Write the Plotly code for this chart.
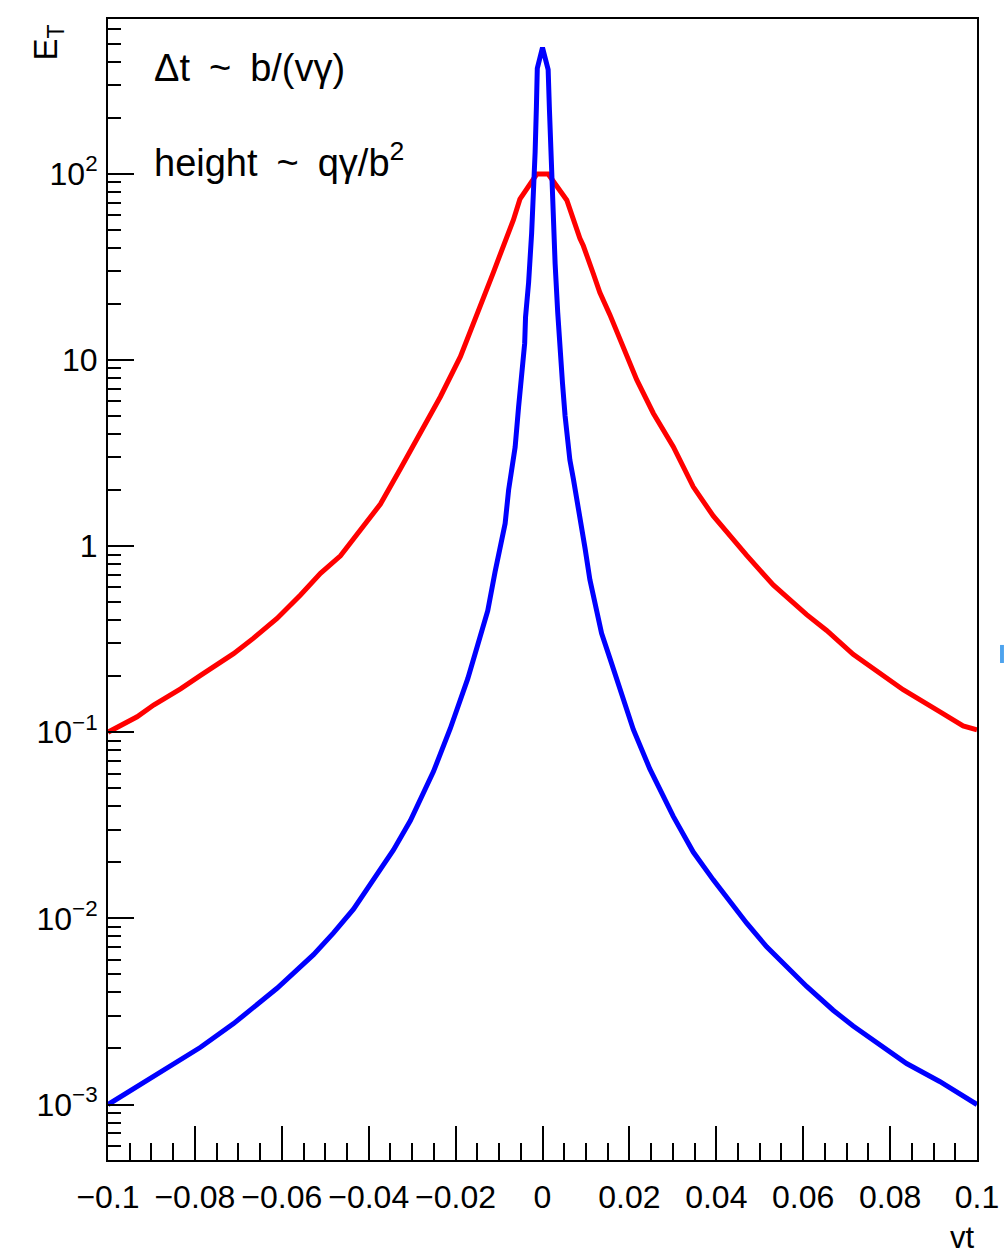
import plotly.graph_objects as go

# ---- data ----
blue_x = [-0.1, -0.0895, -0.0833, -0.0787, -0.0711, -0.0665, -0.0611, -0.0527, -0.0481,
          -0.0435, -0.0389, -0.0343, -0.0304, -0.0274, -0.0251, -0.0212, -0.0189, -0.0172,
          -0.0149, -0.0126, -0.0109, -0.0101, -0.0086, -0.0078, -0.0063, -0.0055, -0.0048,
          -0.0041, -0.0039, -0.0032, -0.0025, -0.0021, -0.0017, -0.0014, -0.0012, 0.0,
          0.0013, 0.0016, 0.0020, 0.0023, 0.0029, 0.0035, 0.0040, 0.0046, 0.0052, 0.0063,
          0.0071, 0.0083, 0.0098, 0.0109, 0.0117, 0.0129, 0.0136, 0.0155, 0.0175, 0.0209,
          0.0247, 0.0301, 0.0347, 0.0393, 0.0470, 0.0516, 0.0608, 0.0669, 0.0715, 0.0792,
          0.0838, 0.0914, 0.0991, 0.1]
blue_y = [0.001, 0.00141, 0.00173, 0.00203, 0.00272, 0.0033, 0.00421, 0.00638, 0.00835,
          0.0112, 0.0162, 0.0233, 0.0335, 0.0481, 0.0614, 0.105, 0.149, 0.194,
          0.295, 0.45, 0.73, 0.92, 1.32, 2.0, 3.4, 5.6, 8.1,
          12.3, 17.0, 26.0, 48.0, 75.0, 130.0, 230.0, 368.0, 475.0,
          362.0, 220.0, 110.0, 70.0, 33.0, 18.0, 11.0, 7.5, 5.0, 2.9,
          2.3, 1.6, 0.97, 0.66, 0.53, 0.40, 0.34, 0.25, 0.18, 0.1035,
          0.0635, 0.0353, 0.0227, 0.0161, 0.00942, 0.00703, 0.00431, 0.00321, 0.00264, 0.00197,
          0.00166, 0.00133, 0.00104, 0.001]

red_x = [-0.1, -0.0933, -0.0895, -0.0833, -0.0787, -0.0711, -0.0665, -0.0611, -0.0557,
         -0.0511, -0.0465, -0.0419, -0.0389, -0.0373, -0.0327, -0.0281, -0.0235, -0.0189,
         -0.0159, -0.0143, -0.0128, -0.0113, -0.0098, -0.0086, -0.0067, -0.0052, -0.0013,
         0.0013, 0.0056, 0.0086, 0.0094, 0.0117, 0.0125, 0.0132, 0.0155, 0.0178, 0.0217,
         0.0255, 0.0301, 0.0347, 0.0385, 0.0393, 0.0470, 0.0531, 0.0608, 0.0654, 0.0715,
         0.0792, 0.0830, 0.0914, 0.0968, 0.1]
red_y = [0.1, 0.121, 0.140, 0.171, 0.202, 0.264, 0.320, 0.408, 0.546,
         0.713, 0.886, 1.22, 1.50, 1.68, 2.6, 4.03, 6.34, 10.4,
         15.5, 19.0, 23.5, 29.5, 36.5, 43.0, 56.4, 73.0, 99.5,
         99.5, 72.0, 45.0, 41.0, 29.0, 25.5, 23.0, 17.5, 12.8, 7.8,
         5.17, 3.42, 2.08, 1.56, 1.45, 0.891, 0.618, 0.428, 0.352, 0.262,
         0.196, 0.169, 0.129, 0.108, 0.103]

x_tickvals = [-0.1, -0.08, -0.06, -0.04, -0.02, 0, 0.02, 0.04, 0.06, 0.08, 0.1]
x_ticktext = ["\u22120.1", "\u22120.08", "\u22120.06", "\u22120.04", "\u22120.02", "0",
              "0.02", "0.04", "0.06", "0.08", "0.1"]
y_tickvals = [1e-3, 1e-2, 1e-1, 1, 10, 100]
y_ticktext = ["10<sup>\u22123</sup>", "10<sup>\u22122</sup>", "10<sup>\u22121</sup>",
              "1", "10", "10<sup>2</sup>"]
y_minor_vals = [m * 10.0 ** e for e in range(-4, 3) for m in range(2, 10)]

FONT = "Liberation Sans, Arial, Helvetica, sans-serif"

fig = go.Figure()
fig.add_trace(go.Scatter(x=red_x, y=red_y, mode="lines",
                         line=dict(color="#ff0000", width=5), showlegend=False))
fig.add_trace(go.Scatter(x=blue_x, y=blue_y, mode="lines",
                         line=dict(color="#0000ff", width=5), showlegend=False))

fig.update_layout(
    width=1004, height=1254,
    margin=dict(l=108, r=27, t=19, b=94, autoexpand=False),
    paper_bgcolor="white", plot_bgcolor="white",
    font=dict(family=FONT, color="black"),
    xaxis=dict(
        range=[-0.1, 0.1], showgrid=False, zeroline=False,
        showline=True, mirror=True, linecolor="black", linewidth=2,
        tickmode="array", tickvals=x_tickvals, ticktext=x_ticktext,
        ticks="inside", ticklen=34, tickwidth=2, tickcolor="black",
        tickfont=dict(size=32, family=FONT, color="black"),
        ticklabelstandoff=8,
        minor=dict(dtick=0.005, tick0=0, ticks="inside", ticklen=17, tickwidth=2,
                   tickcolor="black", showgrid=False),
    ),
    yaxis=dict(
        type="log", range=[-3.298, 2.831], showgrid=False, zeroline=False,
        showline=True, mirror=True, linecolor="black", linewidth=2,
        tickmode="array", tickvals=y_tickvals, ticktext=y_ticktext,
        ticks="inside", ticklen=26, tickwidth=2, tickcolor="black",
        tickfont=dict(size=32, family=FONT, color="black"),
        ticklabelstandoff=2,
        minor=dict(tickmode="array", tickvals=y_minor_vals, ticks="inside", ticklen=13,
                   tickwidth=2, tickcolor="black", showgrid=False),
    ),
)

fig.add_annotation(text="\u0394t\u2002~\u2002b/(v\u03b3)", xref="paper", yref="paper",
                   x=0.0506, y=0.957, xanchor="left", yanchor="middle", showarrow=False,
                   font=dict(size=38, family=FONT, color="black"))
fig.add_annotation(text="height\u2002~\u2002q\u03b3/b<sup>2</sup>", xref="paper", yref="paper",
                   x=0.0506, y=0.876, xanchor="left", yanchor="middle", showarrow=False,
                   font=dict(size=38, family=FONT, color="black"))
fig.add_annotation(text="E<sub>T</sub>", xref="paper", yref="paper", textangle=-90,
                   x=-0.095, y=0.9974, xanchor="left", yanchor="top", showarrow=False,
                   font=dict(size=33, family=FONT, color="black"))
fig.add_annotation(text="vt", xref="paper", yref="paper",
                   x=1.0, y=-0.068, xanchor="right", yanchor="middle", showarrow=False,
                   font=dict(size=31, family=FONT, color="black"))

fig.add_shape(type="rect", xref="paper", yref="paper", x0=1.0265, x1=1.031,
              y0=0.4356, y1=0.4514, fillcolor="#4da3ee", line=dict(width=0))

fig.write_html("out.html")
